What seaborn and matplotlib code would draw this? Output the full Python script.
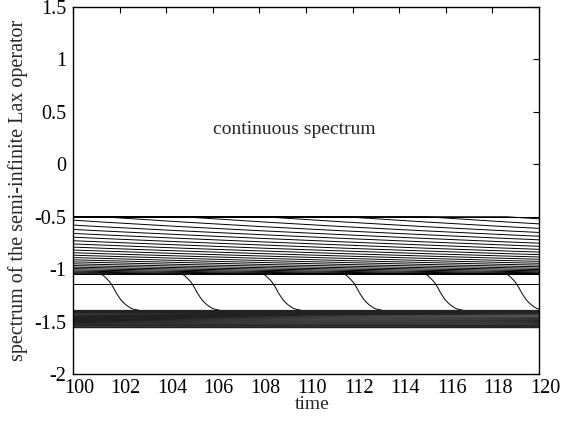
import numpy as np
import pandas as pd
import matplotlib
matplotlib.use("Agg")
import matplotlib.pyplot as plt
import matplotlib.transforms as mtransforms
import seaborn as sns

# ---- data ----
# eigenvalue slots of the upper cluster at the transition instants
SLOTS = [-0.50, -0.55, -0.595, -0.635, -0.672, -0.707, -0.74, -0.77, -0.80,
         -0.827, -0.852, -0.875, -0.897, -0.918, -0.937, -0.955, -0.971,
         -0.986, -0.999, -1.011, -1.022, -1.031, -1.039, -1.046]
# times at which one eigenvalue leaves the upper cluster
TRANS = [101.2, 104.68, 108.16, 111.64, 115.12, 118.6]
BREAKS = [97.72] + TRANS + [122.08]
# shape of the falling eigenvalue (time offset, value)
FALL_DT = [0.0, 0.1, 0.22, 0.33, 0.43, 0.54, 0.65, 0.76, 0.86, 0.97, 1.08,
           1.2, 1.29, 1.45, 1.6]
FALL_V = [-1.046, -1.06, -1.085, -1.11, -1.138, -1.178, -1.224, -1.262,
          -1.294, -1.32, -1.342, -1.36, -1.373, -1.385, -1.39]
# isolated eigenvalue
ISOLATED = -1.14
# lower cluster: values at t=100 and t=120
LOW_T = [100.0, 120.0]
LOW_START = [-1.390, -1.395, -1.400, -1.405, -1.412, -1.42, -1.43, -1.44,
             -1.45, -1.46, -1.47, -1.48, -1.49, -1.50, -1.51, -1.52,
             -1.53, -1.537, -1.544, -1.55, -1.555]
LOW_END = [-1.390, -1.395, -1.400, -1.405, -1.415, -1.425, -1.435, -1.447,
           -1.458, -1.468, -1.478, -1.488, -1.497, -1.506, -1.515, -1.523,
           -1.532, -1.538, -1.545, -1.55, -1.555]

XTICKS = [100, 102, 104, 106, 108, 110, 112, 114, 116, 118, 120]
YTICKS = [-2, -1.5, -1, -0.5, 0, 0.5, 1, 1.5]
YTICKLABELS = ["-2", "-1.5", "-1", "-0.5", "0", "0.5", "1", "1.5"]

# ---- build long-form tables ----
rows = []
K = len(SLOTS) - 1
uid = 0
for j in range(-(len(BREAKS) - 1), K + 1):
    for m, tb in enumerate(BREAKS):
        idx = min(max(j + m, 0), K)
        rows.append((tb, SLOTS[idx], uid))
    uid += 1
for t0 in TRANS:
    for dt, v in zip(FALL_DT, FALL_V):
        rows.append((t0 + dt, v, uid))
    uid += 1
for t in [BREAKS[0], BREAKS[-1]]:
    rows.append((t, ISOLATED, uid))
uid += 1
upper = pd.DataFrame(rows, columns=["t", "v", "line"])

low_rows = []
for i, (a, b) in enumerate(zip(LOW_START, LOW_END)):
    low_rows.append((LOW_T[0], a, i))
    low_rows.append((LOW_T[1], b, i))
lower = pd.DataFrame(low_rows, columns=["t", "v", "line"])

# ---- plot ----
sns.set_theme(style="white")
plt.rcParams["font.family"] = ["Liberation Serif", "DejaVu Serif"]
plt.rcParams["axes.unicode_minus"] = False

fig = plt.figure(figsize=(5.64, 4.21), dpi=100)
ax = fig.add_axes([0.1294, 0.1116, 0.8263, 0.8718])

sns.lineplot(data=upper, x="t", y="v", units="line", estimator=None,
             color="black", linewidth=0.7, ax=ax, legend=False)
sns.lineplot(data=lower, x="t", y="v", units="line", estimator=None,
             color="#222222", linewidth=0.9, ax=ax, legend=False)

ax.set_xlim(100, 120)
ax.set_ylim(-2, 1.5)
ax.set_xticks(XTICKS)
ax.set_xticklabels([str(x) for x in XTICKS])
ax.set_yticks(YTICKS)
ax.set_yticklabels(YTICKLABELS)
ax.tick_params(direction="in", length=4, width=0.8, top=True, right=True,
               labelsize=14.5, colors="black")
ax.tick_params(axis="x", pad=3.5)
ax.tick_params(axis="y", pad=5)
shift = mtransforms.ScaledTranslation(6 / 100, 0, fig.dpi_scale_trans)
for lbl in ax.get_xticklabels():
    lbl.set_transform(lbl.get_transform() + shift)
ax.set_xlabel("time", fontsize=14, labelpad=-1)
ax.xaxis.label.set_x(0.5 + 6 / 466)
ax.set_ylabel("spectrum of the semi-infinite Lax operator", fontsize=14.5,
              labelpad=4)
for s in ax.spines.values():
    s.set_color("black")
    s.set_linewidth(1.0)
ax.text(109.5, 0.33, "continuous spectrum", ha="center", va="center",
        fontsize=14)
ax.grid(False)

fig.savefig("out.png", dpi=100)
